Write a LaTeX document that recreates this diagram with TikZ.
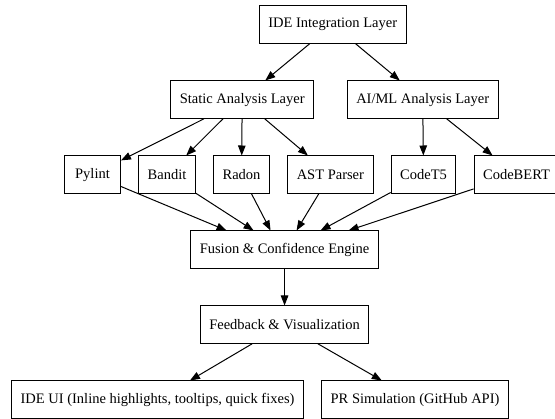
\documentclass[tikz,border=0pt]{standalone}
\usepackage{fontspec}
\setmainfont{Liberation Serif}
\usetikzlibrary{arrows.meta, positioning}

\begin{document}
\begin{tikzpicture}[
  node distance=36.7pt and 17.2pt,
  layer/.style={rectangle, draw=black, line width=1pt, minimum width=56pt, minimum height=37.3pt, inner xsep=9pt, font=\fontsize{14.5}{17}\selectfont},
  arr/.style={-{Triangle[length=10pt, width=7.5pt]}, line width=1pt}
]
\useasboundingbox (-332.7pt,24.65pt) rectangle ++(555pt,-419pt);
\node[layer] (ide) at (0,0) {IDE Integration Layer};
\node[layer, below=of ide, xshift=-90.5pt] (static) {Static Analysis Layer};
\node[layer, below=of ide, xshift=90pt] (aiml) {AI/ML Analysis Layer};
\node[layer, below=of static, xshift=-149.7pt] (pylint) {Pylint};
\node[layer, right=of pylint] (bandit) {Bandit};
\node[layer, right=of bandit] (radon) {Radon};
\node[layer, right=of radon] (ast) {AST Parser};
\node[layer, right=of ast] (codet5) {CodeT5};
\node[layer, right=of codet5] (codebert) {CodeBERT};
\node[layer, below=of radon, xshift=43pt] (fusion) {Fusion \& Confidence Engine};
\node[layer, below=of fusion] (feedback) {Feedback \& Visualization};
\node[layer, below=of feedback, xshift=-127pt] (ideui) {IDE UI (Inline highlights, tooltips, quick fixes)};
\node[layer, right=of ideui] (prsim) {PR Simulation (GitHub API)};
\draw[arr] (ide) -- (static);
\draw[arr] (ide) -- (aiml);
\draw[arr] (static) -- (pylint);
\draw[arr] (static) -- (bandit);
\draw[arr] (static) -- (radon);
\draw[arr] (static) -- (ast);
\draw[arr] (aiml) -- (codet5);
\draw[arr] (aiml) -- (codebert);
\draw[arr] (pylint) -- ([xshift=-58pt]fusion.north);
\draw[arr] (bandit) -- ([xshift=-31pt]fusion.north);
\draw[arr] (radon) -- ([xshift=-14pt]fusion.north);
\draw[arr] (ast) -- ([xshift=12pt]fusion.north);
\draw[arr] (codet5) -- ([xshift=36pt]fusion.north);
\draw[arr] (codebert) -- ([xshift=64pt]fusion.north);
\draw[arr] (fusion) -- (feedback);
\draw[arr] (feedback) -- (ideui);
\draw[arr] (feedback) -- (prsim);
\end{tikzpicture}
\end{document}
